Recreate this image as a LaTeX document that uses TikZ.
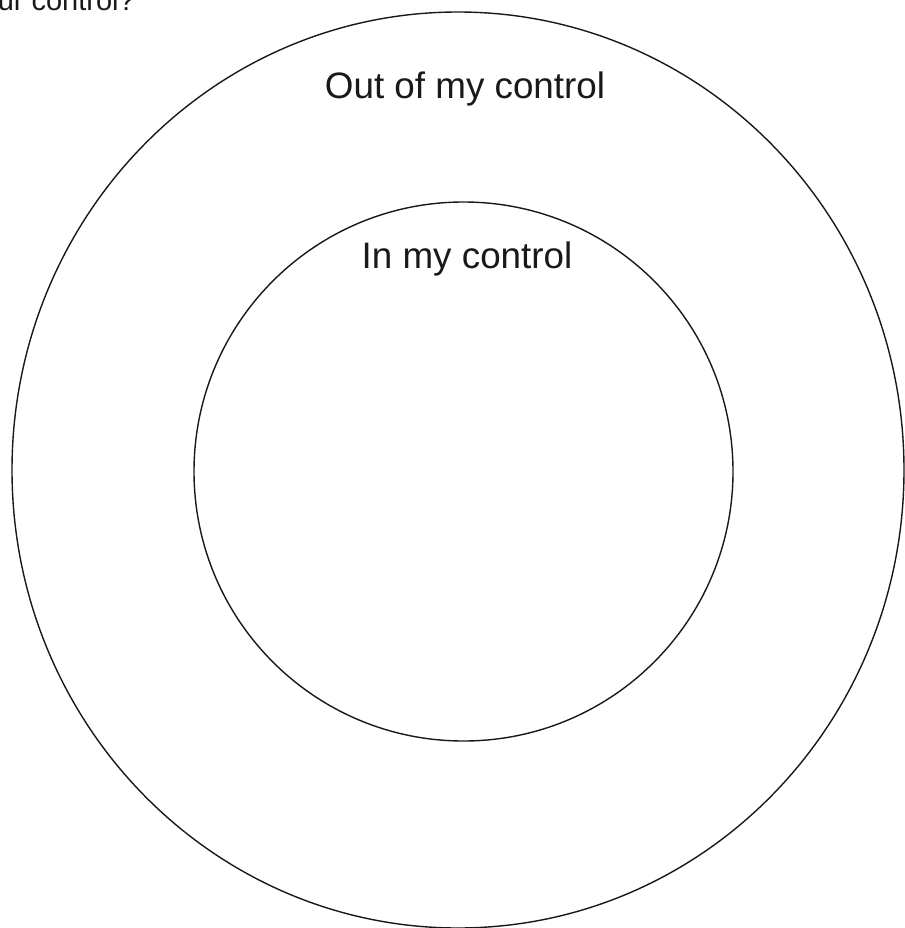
\documentclass[tikz,border=0pt]{standalone}
\usepackage{fontspec}
\setmainfont{Liberation Sans}
\usetikzlibrary{shapes.geometric}
\begin{document}
\begin{tikzpicture}[x=1pt,y=-1pt,
  ring/.style={draw=black!90, line width=1.4pt},
  lbl/.style={inner sep=0pt, font=\fontsize{36.8}{40}\selectfont, text=black!90},
  ttl/.style={inner sep=0pt, font=\fontsize{29}{33}\selectfont, text=black!90}]
\useasboundingbox (0,0) rectangle (904,928);
\fill[white] (0,0) rectangle (904,928);
\node[ring, ellipse, minimum width=892pt, minimum height=916pt, inner sep=0pt] (outer) at (458,470) {};
\node[ring, circle, minimum size=539pt, inner sep=0pt] (inner) at (463.5,471.5) {};
\node[lbl, anchor=base] (outlbl) at (465,99) {Out of my control};
\node[lbl, anchor=base] (inlbl) at (467,268) {In my control};
\node[ttl, anchor=base east] (title) at (135,11) {ur control?};
\end{tikzpicture}
\end{document}
